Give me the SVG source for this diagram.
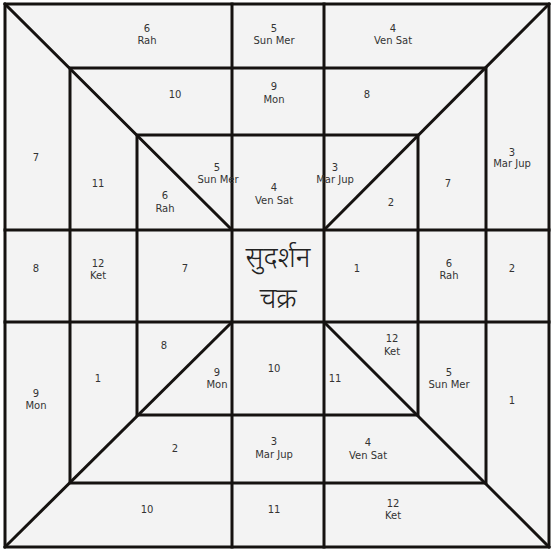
<svg xmlns="http://www.w3.org/2000/svg" width="555" height="552" viewBox="0 0 555 552">
<style>
.ln{stroke:#151210;stroke-width:3;fill:none;stroke-linecap:square}
.t{font-family:"DejaVu Sans","Verdana",sans-serif;font-size:10px;fill:#333;text-anchor:middle}
.big{font-family:"Noto Sans Devanagari","Lohit Devanagari","Noto Sans","FreeSans",sans-serif;font-size:28px;font-weight:300;fill:#222;text-anchor:middle}
</style>
<rect x="0" y="0" width="555" height="552" fill="#ffffff"/>
<rect x="5" y="4" width="544" height="543" fill="#f3f3f3"/>
<g id="connectors">
<rect class="ln" x="5" y="4" width="544" height="543"/>
<rect class="ln" x="70" y="68" width="416" height="415"/>
<rect class="ln" x="137" y="135" width="281" height="280"/>
<line class="ln" x1="232" y1="4" x2="232" y2="547"/>
<line class="ln" x1="324" y1="4" x2="324" y2="547"/>
<line class="ln" x1="5" y1="230" x2="549" y2="230"/>
<line class="ln" x1="5" y1="322" x2="549" y2="322"/>
<line class="ln" x1="5" y1="4" x2="232" y2="230"/>
<line class="ln" x1="549" y1="4" x2="324" y2="230"/>
<line class="ln" x1="5" y1="547" x2="232" y2="322"/>
<line class="ln" x1="549" y1="547" x2="324" y2="322"/>
</g>
<g id="center"><text class="big" x="278" y="267">सुदर्शन</text><text class="big" x="278" y="308">चक्र</text></g>
<g id="n-top1"><text class="t" x="147" y="32">6</text><text class="t" x="147" y="44">Rah</text></g>
<g id="n-top2"><text class="t" x="274" y="32">5</text><text class="t" x="274" y="44">Sun Mer</text></g>
<g id="n-top3"><text class="t" x="393" y="32">4</text><text class="t" x="393" y="44">Ven Sat</text></g>
<g id="n-r2a"><text class="t" x="175" y="98">10</text></g>
<g id="n-r2b"><text class="t" x="274" y="90">9</text><text class="t" x="274" y="103">Mon</text></g>
<g id="n-r2c"><text class="t" x="367" y="98">8</text></g>
<g id="n-l7"><text class="t" x="36" y="161">7</text></g>
<g id="n-l11"><text class="t" x="98" y="187">11</text></g>
<g id="n-i5"><text class="t" x="217" y="171">5</text><text class="t" x="218" y="183">Sun Mer</text></g>
<g id="n-i6"><text class="t" x="165" y="199">6</text><text class="t" x="165" y="212">Rah</text></g>
<g id="n-i4"><text class="t" x="274" y="191">4</text><text class="t" x="274" y="204">Ven Sat</text></g>
<g id="n-i3"><text class="t" x="335" y="171">3</text><text class="t" x="335" y="183">Mar Jup</text></g>
<g id="n-i2"><text class="t" x="391" y="206">2</text></g>
<g id="n-r7"><text class="t" x="448" y="187">7</text></g>
<g id="n-r3"><text class="t" x="512" y="156">3</text><text class="t" x="512" y="167">Mar Jup</text></g>
<g id="n-m8"><text class="t" x="36" y="272">8</text></g>
<g id="n-m12"><text class="t" x="98" y="267">12</text><text class="t" x="98" y="279">Ket</text></g>
<g id="n-m7"><text class="t" x="185" y="272">7</text></g>
<g id="n-m1"><text class="t" x="357" y="272">1</text></g>
<g id="n-m6"><text class="t" x="449" y="267">6</text><text class="t" x="449" y="279">Rah</text></g>
<g id="n-m2"><text class="t" x="512" y="272">2</text></g>
<g id="n-l9"><text class="t" x="36" y="397">9</text><text class="t" x="36" y="409">Mon</text></g>
<g id="n-l1"><text class="t" x="98" y="382">1</text></g>
<g id="n-i8"><text class="t" x="164" y="349">8</text></g>
<g id="n-i9"><text class="t" x="217" y="376">9</text><text class="t" x="217" y="388">Mon</text></g>
<g id="n-i10"><text class="t" x="274" y="372">10</text></g>
<g id="n-i11"><text class="t" x="335" y="382">11</text></g>
<g id="n-i12"><text class="t" x="392" y="342">12</text><text class="t" x="392" y="355">Ket</text></g>
<g id="n-r5"><text class="t" x="449" y="376">5</text><text class="t" x="449" y="388">Sun Mer</text></g>
<g id="n-r1"><text class="t" x="512" y="404">1</text></g>
<g id="n-b2"><text class="t" x="175" y="452">2</text></g>
<g id="n-b3"><text class="t" x="274" y="445">3</text><text class="t" x="274" y="458">Mar Jup</text></g>
<g id="n-b4"><text class="t" x="368" y="446">4</text><text class="t" x="368" y="459">Ven Sat</text></g>
<g id="n-b10"><text class="t" x="147" y="513">10</text></g>
<g id="n-b11"><text class="t" x="274" y="513">11</text></g>
<g id="n-b12"><text class="t" x="393" y="507">12</text><text class="t" x="393" y="519">Ket</text></g>
</svg>
